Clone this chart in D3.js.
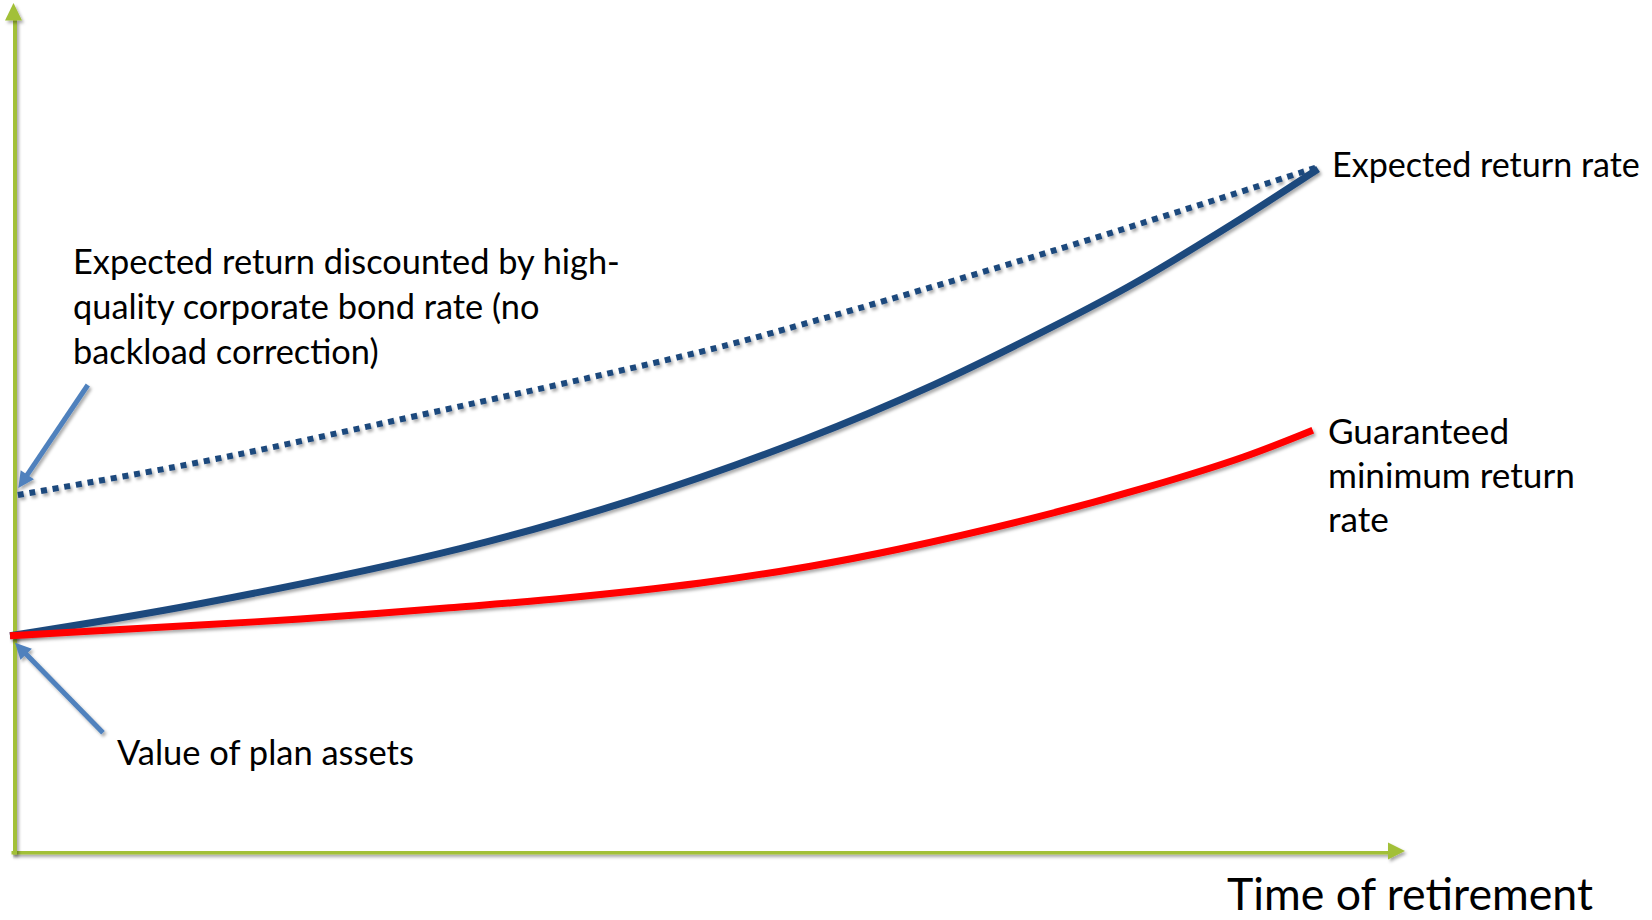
<!DOCTYPE html>
<html><head><meta charset="utf-8">
<script src="https://cdn.jsdelivr.net/npm/d3@7"></script>
<style>html,body{margin:0;padding:0;background:#fff;} svg{display:block;}</style>
</head><body>
<svg id="chart" width="1652" height="920"></svg>
<script>
// ---------------- data ----------------
const expectedTime    = [0, 14.5, 34.4, 47.6, 60.8, 70.6, 79.8, 85.9, 93.5, 100];
const expectedReturn  = [26.9, 30.9, 37.8, 43.9, 51.5, 58.25, 65.6, 70.9, 78.4, 85.25];
const guaranteedTime  = [0, 14.5, 22.2, 33.6, 41.7, 52.8, 61.2, 68.0, 78.2, 87.2, 94.3, 99.6];
const guaranteedMin   = [26.9, 28.25, 29.0, 30.4, 31.5, 33.5, 35.6, 37.75, 41.6, 45.6, 49.25, 52.6];
const discountedTime  = [0.6, 14.5, 28.3, 52.8, 60.4, 79.9, 100];
const discountedValue = [44.5, 48.6, 53.4, 62.4, 65.75, 75.1, 85.5];

const labelExpected   = ["Expected return rate"];
const labelDiscounted = ["Expected return discounted by high-", "quality corporate bond rate (no", "backload correction)"];
const labelGuaranteed = ["Guaranteed", "minimum return", "rate"];
const labelPlanAssets = ["Value of plan assets"];
const axisTitleX      = ["Time of retirement"];

// ---------------- layout ----------------
const W = 1652, H = 920;
const svg = d3.select("#chart");
const defs = svg.append("defs");
const flt = defs.append("filter").attr("id", "shadow")
  .attr("filterUnits", "userSpaceOnUse").attr("x", 0).attr("y", 0).attr("width", W).attr("height", H);
flt.append("feDropShadow").attr("dx", 2).attr("dy", 2.5).attr("stdDeviation", 1.8)
  .attr("flood-color", "#000").attr("flood-opacity", 0.33);

const x = d3.scaleLinear().domain([0, 100]).range([10, 1318]);
const y = d3.scaleLinear().domain([0, 100]).range([851, 51]);

const green = "#A2C037", navy = "#1F497D", red = "#FF0000", lightBlue = "#4F81BD";

// ---------------- axes ----------------
const gx = svg.append("g").attr("transform", "translate(0,851)")
  .call(d3.axisBottom(d3.scaleLinear().range([11, 1390])).tickValues([]).tickSizeOuter(0));
const gy = svg.append("g").attr("transform", "translate(13.5,0)")
  .call(d3.axisLeft(d3.scaleLinear().range([854, 19])).tickValues([]).tickSizeOuter(0));
[gx, gy].forEach(g => g.select(".domain").attr("stroke", green).attr("stroke-width", 6)
  .attr("filter", "url(#shadow)"));
svg.append("polygon").attr("points", [[1405, 851], [1388, 842.5], [1388, 859.5]].join(" "))
  .attr("fill", green).attr("filter", "url(#shadow)");
svg.append("polygon").attr("points", [[13.5, 3], [5, 20.5], [22, 20.5]].join(" "))
  .attr("fill", green).attr("filter", "url(#shadow)");

// ---------------- series ----------------
const line = d3.line().x(d => x(d[0])).y(d => y(d[1])).curve(d3.curveCatmullRom.alpha(0.5));

svg.append("path").datum(d3.zip(discountedTime, discountedValue)).attr("d", line)
  .attr("fill", "none").attr("stroke", navy).attr("stroke-width", 6)
  .attr("stroke-dasharray", "6,5.8").attr("filter", "url(#shadow)");
svg.append("path").datum(d3.zip(expectedTime, expectedReturn)).attr("d", line)
  .attr("fill", "none").attr("stroke", navy).attr("stroke-width", 7)
  .attr("filter", "url(#shadow)");
svg.append("path").datum(d3.zip(guaranteedTime, guaranteedMin)).attr("d", line)
  .attr("fill", "none").attr("stroke", red).attr("stroke-width", 7)
  .attr("filter", "url(#shadow)");

// ---------------- annotation arrows ----------------
function arrow(tail, tip) {
  const dx = tip[0] - tail[0], dy = tip[1] - tail[1];
  const len = Math.hypot(dx, dy), ux = dx / len, uy = dy / len;
  const hl = 16, hw = 8;
  const base = [tip[0] - ux * hl, tip[1] - uy * hl];
  const g = svg.append("g").attr("filter", "url(#shadow)");
  g.append("line").attr("x1", tail[0]).attr("y1", tail[1]).attr("x2", base[0] + ux * 2).attr("y2", base[1] + uy * 2)
    .attr("stroke", lightBlue).attr("stroke-width", 5);
  g.append("polygon").attr("points", [tip, [base[0] - uy * hw, base[1] + ux * hw], [base[0] + uy * hw, base[1] - ux * hw]].join(" "))
    .attr("fill", lightBlue);
}
const pDisc = [x(discountedTime[0]), y(discountedValue[0])];
arrow([pDisc[0] + 70, pDisc[1] - 110], [pDisc[0] + 0.5, pDisc[1] - 7]);
const pStart = [x(expectedTime[0]), y(expectedReturn[0])];
arrow([pStart[0] + 93, pStart[1] + 97], [pStart[0] + 5, pStart[1] + 7]);

// ---------------- labels ----------------
function addLabel(lines, xPos, yBase, gap, targetWidth, fitIndex, baseSize) {
  const t = svg.append("text").attr("font-family", "Lato, 'Open Sans', sans-serif")
    .attr("font-size", baseSize).attr("fill", "#000");
  lines.forEach((s, i) => t.append("tspan").attr("x", xPos).attr("y", yBase + i * gap).text(s));
  const w = t.selectAll("tspan").nodes()[fitIndex].getComputedTextLength();
  t.attr("font-size", baseSize * targetWidth / w);
}
addLabel(labelExpected, 1332, 177, 0, 308, 0, 34);
addLabel(labelDiscounted, 73, 274, 45, 547, 0, 34);
addLabel(labelGuaranteed, 1328, 444, 44, 247, 1, 34);
addLabel(labelPlanAssets, 117, 765, 0, 297, 0, 34);
addLabel(axisTitleX, 1227, 910, 0, 366, 0, 46);
</script>
</body></html>
